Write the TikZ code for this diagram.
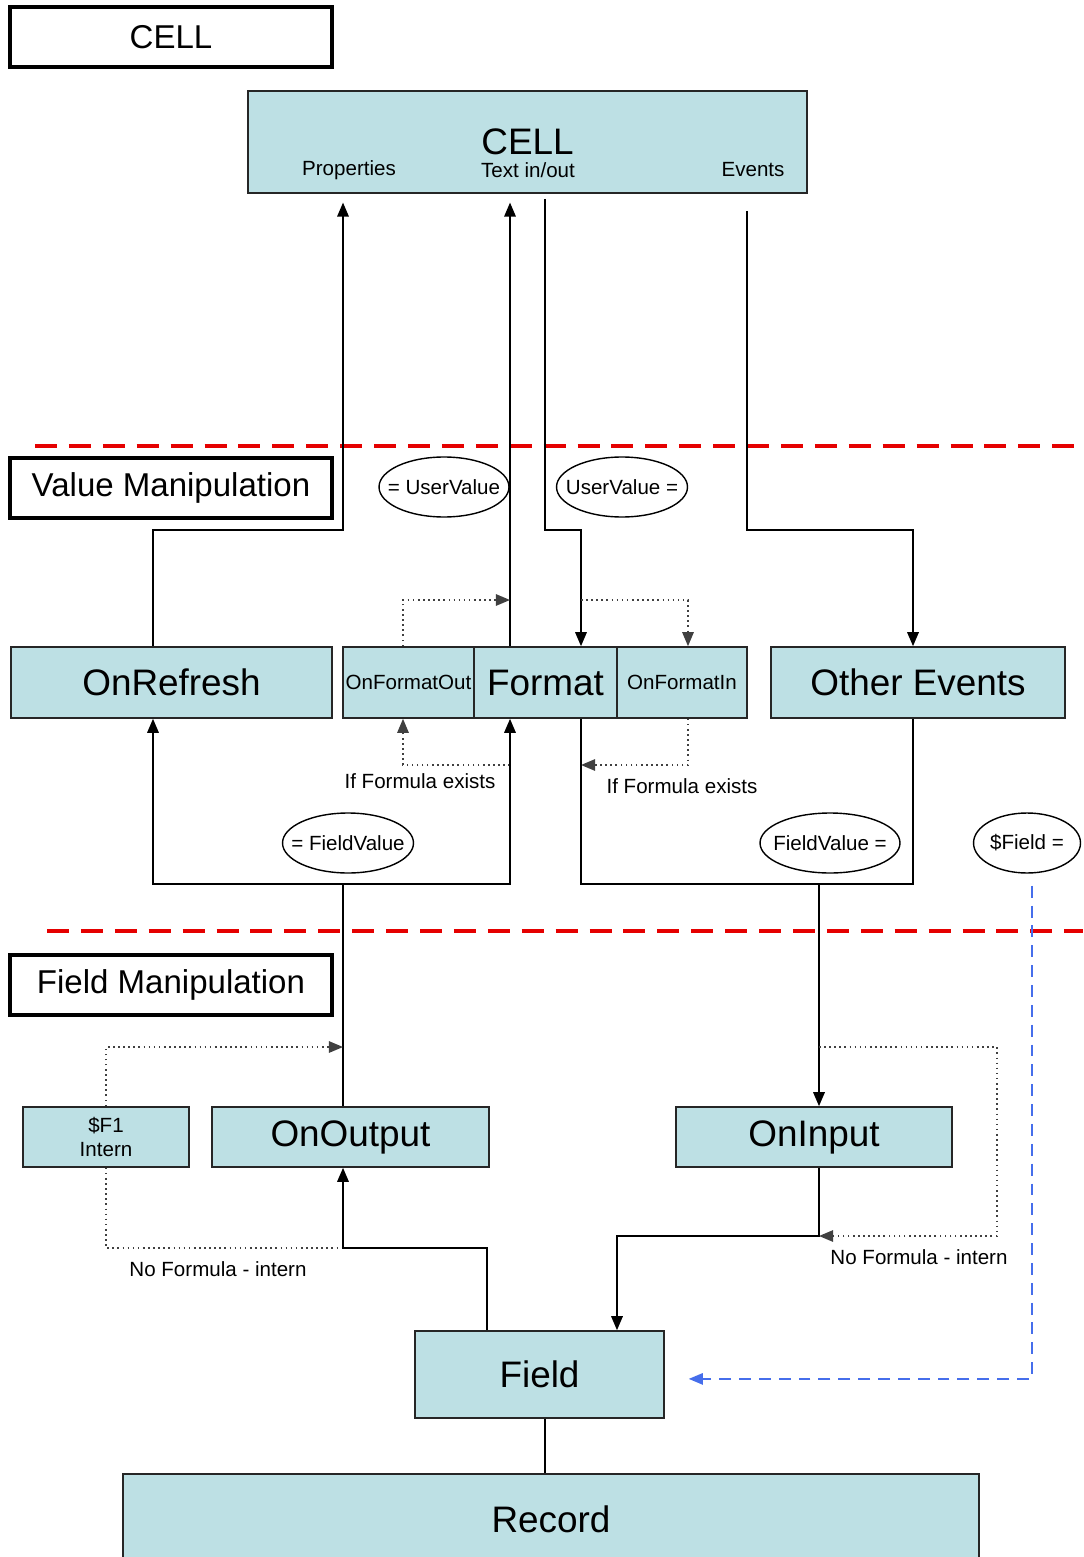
\documentclass[tikz,border=0pt]{standalone}
\usepackage{fontspec}
\setmainfont{Liberation Sans}
\usetikzlibrary{arrows.meta,shapes.geometric}

\definecolor{cellblue}{RGB}{189,224,228}
\definecolor{remoteblue}{RGB}{70,110,235}

\tikzset{
  blk/.style={draw=black!85, line width=0.9pt, fill=cellblue, inner sep=0pt,
    font=\fontsize{21}{24}\selectfont},
  ttl/.style={draw, line width=1.8pt, fill=white, inner sep=0pt,
    minimum width=6.44cm, minimum height=1.2cm, font=\fontsize{18.8}{22}\selectfont},
  tag/.style={draw, ellipse, line width=0.8pt, inner xsep=-0.3cm, inner ysep=0pt,
    minimum height=1.2cm, font=\fontsize{11.7}{14}\selectfont},
  sml/.style={inner sep=0pt, font=\fontsize{11.7}{14}\selectfont},
  flow/.style={line width=1.1pt, -{Triangle[length=8pt,width=6.5pt]}},
  link/.style={line width=1.1pt},
  opt/.style={line width=0.9pt, dotted, black!75, -{Triangle[length=8pt,width=6.5pt]}},
  sep/.style={red!90!black, line width=2.3pt, dash pattern=on 12.5pt off 6.8pt},
  remote/.style={remoteblue, line width=0.8pt, dash pattern=on 6.8pt off 4.5pt,
    -{Triangle[length=8pt,width=6.5pt]}},
}

\begin{document}
\begin{tikzpicture}[x=0.02cm, y=-0.02cm]
  \useasboundingbox (0,0) rectangle (1083,1557);

  % section titles
  \node[ttl] (cellttl) at (171,37) {CELL};
  \node[ttl] (valttl) at (171,488) {Value Manipulation};
  \node[ttl] (fldttl) at (171,985) {Field Manipulation};

  % boxes
  \node[blk, minimum width=11.18cm, minimum height=2.04cm] (cell) at (527.5,142) {CELL};
  \node[sml] (props) at (349,170) {Properties};
  \node[sml] (txtio) at (528,170) {Text in/out};
  \node[sml] (evts) at (753,170) {Events};

  \node[blk, minimum width=6.42cm, minimum height=1.42cm] (refresh) at (171.5,682.5) {OnRefresh};
  \node[blk, minimum width=2.62cm, minimum height=1.42cm, font=\fontsize{11.7}{14}\selectfont] (fmtout) at (408.5,682.5) {OnFormatOut};
  \node[blk, minimum width=2.86cm, minimum height=1.42cm] (format) at (545.5,682.5) {Format};
  \node[blk, minimum width=2.6cm, minimum height=1.42cm, font=\fontsize{11.7}{14}\selectfont] (fmtin) at (682,682.5) {OnFormatIn};
  \node[blk, minimum width=5.88cm, minimum height=1.42cm] (other) at (918,682.5) {Other Events};

  \node[blk, minimum width=3.32cm, minimum height=1.2cm, align=center, font=\fontsize{11.7}{14}\selectfont] (intern) at (106,1137) {\$F1\\Intern};
  \node[blk, minimum width=5.54cm, minimum height=1.2cm] (output) at (350.5,1137) {OnOutput};
  \node[blk, minimum width=5.52cm, minimum height=1.2cm] (input) at (814,1137) {OnInput};

  \node[blk, minimum width=4.98cm, minimum height=1.74cm] (field) at (539.5,1374.5) {Field};
  \node[blk, minimum width=17.12cm, minimum height=1.8cm] (record) at (551,1519) {Record};

  % value tags
  \node[tag, minimum width=2.6cm] (uvin) at (444,487) {= UserValue};
  \node[tag, minimum width=2.62cm] (uvout) at (622,487) {UserValue =};
  \node[tag, minimum width=2.62cm] (fvin) at (348,843) {= FieldValue};
  \node[tag, minimum width=2.8cm] (fvout) at (830,843) {FieldValue =};
  \node[tag, minimum width=2.14cm] (fldtag) at (1027,843) {\$Field =};

  % separators
  \coordinate (sepA) at (35,446);
  \coordinate (sepB) at (47,931);
  \draw[sep] (sepA) -- (sepA -| 1083,0);
  \draw[sep] (sepB) -- (sepB -| 1083,0);

  % lanes
  \coordinate (xA) at (153,0);
  \coordinate (xB) at (343,0);
  \coordinate (xC) at (403,0);
  \coordinate (xD) at (510,0);
  \coordinate (xE) at (545,0);
  \coordinate (xF) at (581,0);
  \coordinate (xG) at (688,0);
  \coordinate (xH) at (747,0);
  \coordinate (xI) at (913,0);
  \coordinate (xJ) at (819,0);
  \coordinate (xK) at (487,0);
  \coordinate (xL) at (997,0);
  \coordinate (xM) at (617,0);
  \coordinate (xN) at (1032,0);
  \coordinate (yA) at (0,530);
  \coordinate (yB) at (0,600);
  \coordinate (yC) at (0,765);
  \coordinate (yD) at (0,884);
  \coordinate (yE) at (0,1047);
  \coordinate (yF) at (0,1248);
  \coordinate (yG) at (0,1236);

  % cell <-> value manipulation
  \draw[flow] (refresh.north -| xA) |- (yA -| xB) -- ([yshift=-5]cell.south -| xB);
  \draw[flow] (format.north -| xD) -- ([yshift=-5]cell.south -| xD);
  \draw[flow, shorten <=0.1cm] (cell.south -| xE) |- (yA -| xF) -- (format.north -| xF);
  \draw[flow, shorten <=0.34cm] (cell.south -| xH) |- (yA -| xI) -- (other.north -| xI);

  \draw[opt] (fmtout.north -| xC) |- (yB -| xD);
  \draw[opt] (yB -| xF) -| (fmtin.north -| xG);
  \draw[opt] (yC -| xD) -| (fmtout.south -| xC);
  \draw[opt] (fmtin.south -| xG) |- (yC -| xF);
  \node[sml] (fmla1) at (420,781) {If Formula exists};
  \node[sml] (fmla2) at (682,786) {If Formula exists};

  % value manipulation <-> field manipulation
  \draw[flow] (output.north -| xB) |- (yD -| xA) -- (refresh.south -| xA);
  \draw[flow] (yD -| xB) -| (format.south -| xD);
  \draw[link] (format.south -| xF) |- (yD -| xI) -- (other.south -| xI);
  \draw[flow] (yD -| xJ) -- (input.north -| xJ);

  % field manipulation
  \draw[opt] (intern.north) |- (yE -| xB);
  \draw[opt, -] (intern.south) |- (yF -| xB);
  \draw[flow] (field.north -| xK) |- (yF -| xB) -- (output.south -| xB);
  \node[sml] (nofm1) at (218,1269) {No Formula - intern};

  \draw[opt] (yE -| xJ) -| (yG -| xL) -- (yG -| xJ);
  \draw[flow] (input.south -| xJ) |- (yG -| xM) -- (field.north -| xM);
  \node[sml] (nofm2) at (919,1257) {No Formula - intern};

  \draw[link, line width=0.9pt] (field.south -| xE) -- (record.north -| xE);
  \draw[remote, shorten <=0.24cm, shorten >=0.48cm] (fldtag.south -| xN) |- ([yshift=-2.5pt]field.east);
\end{tikzpicture}
\end{document}
